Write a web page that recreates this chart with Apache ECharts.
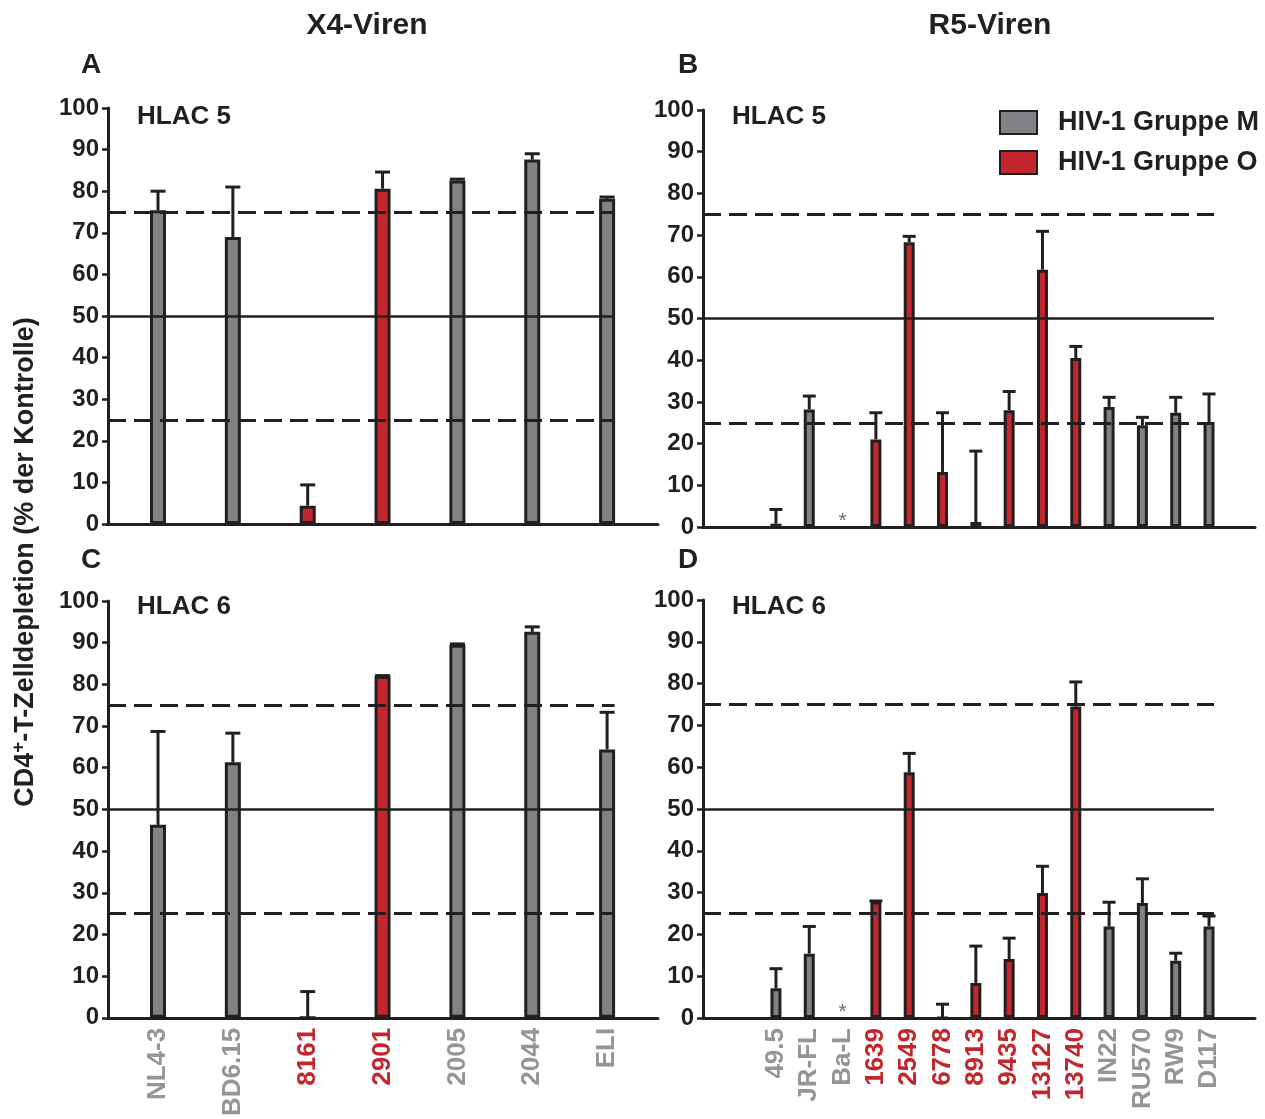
<!DOCTYPE html>
<html>
<head>
<meta charset="utf-8">
<script src="https://cdn.jsdelivr.net/npm/echarts@6/dist/echarts.min.js"></script>
<style>
  html, body { margin: 0; padding: 0; background: #fff; }
  #chart { width: 1265px; height: 1119px; }
</style>
</head>
<body>
<div id="chart"></div>
<script>
// X4 viruses (panels A and C)
const catX = ['NL4-3', 'BD6.15', '8161', '2901', '2005', '2044', 'ELI'];
const grpX = ['M', 'M', 'O', 'O', 'M', 'M', 'M'];
const hlac5X = [75.4, 69, 4.4, 80.6, 82.6, 87.6, 78.2];
const hlac5XErr = [80, 81, 9.4, 84.6, 82.9, 89, 78.6];
const hlac6X = [46.3, 61.3, 0, 82, 89.5, 92.6, 64.4];
const hlac6XErr = [68.7, 68.3, 6.3, 82.1, 89.7, 93.8, 73.3];

// R5 viruses (panels B and D), null = not determined (*)
const catR = ['49.5', 'JR-FL', 'Ba-L', '1639', '2549', '6778', '8913', '9435', '13127', '13740', 'IN22', 'RU570', 'RW9', 'D117'];
const grpR = ['M', 'M', 'M', 'O', 'O', 'O', 'O', 'O', 'O', 'O', 'M', 'M', 'M', 'M'];
const hlac5R = [0.8, 28.2, null, 21, 68.3, 13.2, 1.2, 28, 61.7, 40.5, 28.8, 24.4, 27.4, 25.2];
const hlac5RErr = [4.2, 31.4, null, 27.4, 69.7, 27.4, 18.2, 32.5, 70.9, 43.3, 31.1, 26.3, 31.1, 31.9];
const hlac6R = [7.1, 15.4, null, 27.9, 58.8, 0, 8.4, 14.1, 29.9, 74.5, 21.9, 27.5, 13.7, 21.9];
const hlac6RErr = [11.8, 21.9, null, 28, 63.3, 3.3, 17.2, 19.1, 36.3, 80.4, 27.7, 33.3, 15.5, 24.4];

const yTicks = [0, 100, 10];
const refLevels = [25, 50, 75];
const groupNames = { M: 'HIV-1 Gruppe M', O: 'HIV-1 Gruppe O' };

const INK = '#231f20';
const GREY = '#808285';
const RED = '#c1272d';
const LABEL_GREY = '#939598';
const FONT = '"Liberation Sans", Arial, sans-serif';

function errRenderer(capW) {
    return function (params, api) {
        const x = api.value(0);
        const p0 = api.coord([x, api.value(1)]);
        const p1 = api.coord([x, api.value(2)]);
        const st = { stroke: INK, lineWidth: 3, fill: null };
        return {
            type: 'group',
            children: [
                { type: 'line', shape: { x1: p0[0], y1: p0[1], x2: p1[0], y2: p1[1] }, style: st },
                { type: 'line', shape: { x1: p1[0] - capW / 2, y1: p1[1], x2: p1[0] + capW / 2, y2: p1[1] }, style: st }
            ]
        };
    };
}

const grids = [], xAxes = [], yAxes = [], series = [];

function addPanel(p) {
    const idx = grids.length;
    grids.push(p.grid);
    xAxes.push({
        gridIndex: idx,
        type: 'value',
        min: p.xmin,
        max: p.xmax,
        splitLine: { show: false },
        axisTick: { show: false },
        axisLine: { show: true, onZero: false, lineStyle: { color: INK, width: 3 } },
        axisLabel: {
            show: p.labels,
            customValues: p.cats.map((c, i) => i),
            rotate: 90,
            margin: 10,
            formatter: v => {
                const i = Math.round(v);
                return '{' + (p.groups[i] === 'O' ? 'o' : 'm') + '|' + p.cats[i] + '}';
            },
            rich: {
                m: { color: LABEL_GREY, fontSize: 26, fontWeight: 'bold', fontFamily: FONT },
                o: { color: RED, fontSize: 26, fontWeight: 'bold', fontFamily: FONT }
            }
        }
    });
    yAxes.push({
        gridIndex: idx,
        type: 'value',
        min: yTicks[0],
        max: yTicks[1],
        interval: yTicks[2],
        splitLine: { show: false },
        axisLine: { show: true, onZero: false, lineStyle: { color: INK, width: 3 } },
        axisTick: { show: true, length: 6, lineStyle: { color: INK, width: 2.5 } },
        axisLabel: { color: INK, fontSize: 24, fontWeight: 'bold', fontFamily: FONT, margin: 9 }
    });

    ['M', 'O'].forEach(g => {
        series.push({
            type: 'bar',
            name: groupNames[g],
            xAxisIndex: idx,
            yAxisIndex: idx,
            barWidth: p.barW,
            barGap: '-100%',
            itemStyle: { color: g === 'M' ? GREY : RED, borderColor: INK, borderWidth: p.border },
            data: p.vals.map((v, i) => [i, v]).filter((d, i) => d[1] !== null && p.groups[i] === g)
        });
    });

    series.push({
        type: 'custom',
        xAxisIndex: idx,
        yAxisIndex: idx,
        z: 3,
        silent: true,
        renderItem: errRenderer(p.capW),
        encode: { x: 0, y: [1, 2] },
        data: p.vals.map((v, i) => [i, v, p.errs[i]]).filter(d => d[1] !== null),
        markLine: {
            silent: true,
            symbol: 'none',
            label: { show: false },
            data: refLevels.map(lv => [
                { coord: [p.xmin, lv], lineStyle: { color: INK, width: lv === 50 ? 2.5 : 3, type: lv === 50 ? 'solid' : [18, 8] } },
                { coord: [p.lineEnd, lv] }
            ])
        }
    });

    const stars = p.vals.map((v, i) => [i, 0]).filter((d, i) => p.vals[i] === null);
    if (stars.length) {
        series.push({
            type: 'scatter',
            xAxisIndex: idx,
            yAxisIndex: idx,
            symbolSize: 1,
            itemStyle: { color: 'rgba(0,0,0,0)' },
            silent: true,
            label: { show: true, position: 'top', distance: -5, formatter: '*', fontSize: 21, color: '#444', fontFamily: FONT },
            data: stars
        });
    }
}

addPanel({ grid: { left: 108, top: 108, width: 550, height: 416 }, xmin: -0.668, xmax: 6.68, lineEnd: 6.1,
    cats: catX, groups: grpX, vals: hlac5X, errs: hlac5XErr, barW: 16, border: 3, capW: 15, labels: false });
addPanel({ grid: { left: 703, top: 110, width: 552, height: 417 }, xmin: -2.19, xmax: 14.38, lineEnd: 13.15,
    cats: catR, groups: grpR, vals: hlac5R, errs: hlac5RErr, barW: 11, border: 3, capW: 13, labels: false });
addPanel({ grid: { left: 108, top: 601, width: 550, height: 418 }, xmin: -0.668, xmax: 6.68, lineEnd: 6.1,
    cats: catX, groups: grpX, vals: hlac6X, errs: hlac6XErr, barW: 16, border: 3, capW: 15, labels: true });
addPanel({ grid: { left: 703, top: 600, width: 552, height: 418 }, xmin: -2.19, xmax: 14.38, lineEnd: 13.15,
    cats: catR, groups: grpR, vals: hlac6R, errs: hlac6RErr, barW: 11, border: 3, capW: 13, labels: true });

function txt(text, x, y, size, align, extra) {
    return Object.assign({
        type: 'text', x: x, y: y,
        style: {
            text: text, fill: INK, font: 'bold ' + size + 'px ' + FONT,
            align: align, textAlign: align, verticalAlign: 'middle', textVerticalAlign: 'middle'
        }
    }, extra || {});
}

const option = {
    animation: false,
    backgroundColor: '#fff',
    legend: {
        orient: 'vertical',
        left: 994,
        top: 104,
        itemWidth: 37,
        itemHeight: 23,
        itemGap: 13,
        icon: 'rect',
        selectedMode: false,
        data: [groupNames.M, groupNames.O],
        textStyle: { color: INK, fontSize: 27, fontWeight: 'bold', fontFamily: FONT, lineHeight: 23, padding: [0, 0, 0, 16] }
    },
    grid: grids,
    xAxis: xAxes,
    yAxis: yAxes,
    series: series,
    graphic: [
        txt('X4-Viren', 367, 26, 30, 'center'),
        txt('R5-Viren', 990, 26, 30, 'center'),
        txt('A', 91, 65, 28, 'center'),
        txt('B', 688, 65, 28, 'center'),
        txt('C', 91, 560, 28, 'center'),
        txt('D', 688, 560, 28, 'center'),
        txt('HLAC 5', 137, 117, 26, 'left'),
        txt('HLAC 5', 732, 117, 26, 'left'),
        txt('HLAC 6', 137, 607, 26, 'left'),
        txt('HLAC 6', 732, 607, 26, 'left'),
        {
            type: 'text', x: 26, y: 562, rotation: Math.PI / 2,
            style: {
                text: '{a|CD4}{s|+}{a|-T-Zelldepletion (% der Kontrolle)}',
                align: 'center', textAlign: 'center', verticalAlign: 'middle', textVerticalAlign: 'middle',
                rich: {
                    a: { fontSize: 27, fontWeight: 'bold', fontFamily: FONT, fill: INK, color: INK },
                    s: { fontSize: 19, fontWeight: 'bold', fontFamily: FONT, fill: INK, color: INK, padding: [0, 0, 14, 0] }
                }
            }
        }
    ]
};

const chart = echarts.init(document.getElementById('chart'));
chart.setOption(option);
</script>
</body>
</html>
